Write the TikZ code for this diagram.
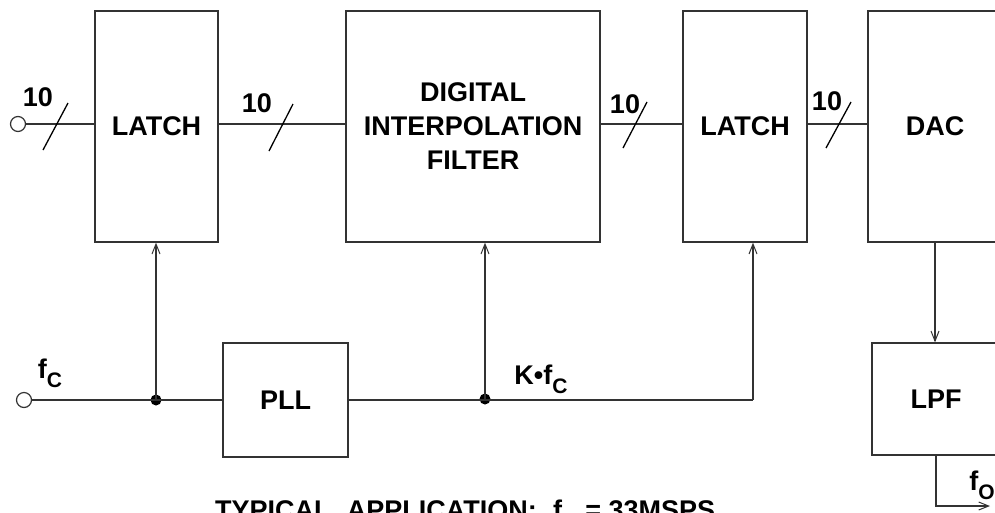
\documentclass[tikz,border=0pt]{standalone}
\usepackage{fontspec}
\setmainfont{Liberation Sans}
\usetikzlibrary{arrows.meta}
\newcommand\lowsub[1]{\raisebox{-0.32em}{\fontsize{21}{21}\selectfont #1}}
\begin{document}
\begin{tikzpicture}[x=1pt,y=-1pt,
 blk/.style={draw=black!80, line width=1.3pt, inner sep=0pt, font=\bfseries\fontsize{27}{34}\selectfont, align=center},
 lbl/.style={inner sep=0pt, font=\bfseries\fontsize{27}{32}\selectfont},
 wire/.style={draw=black!80, line width=1.3pt},
 arr/.style={wire, -{Straight Barb[length=10pt,width=8pt,line width=1pt]}},
 bus/.style={draw=black, line width=1.3pt},
 dotn/.style={circle, fill=black, inner sep=0pt, minimum size=11pt},
 term/.style={circle, draw=black!80, line width=1.2pt, fill=white, inner sep=0pt, minimum size=15pt}]
\useasboundingbox (0,0) rectangle (995,512);
\clip (0,0) rectangle (995,512);
% blocks
\node[blk, minimum width=123pt, minimum height=231pt] (l1) at (156.5,126.5) {LATCH};
\node[blk, minimum width=254pt, minimum height=231pt] (dif) at (473,126.5) {DIGITAL\\INTERPOLATION\\FILTER};
\node[blk, minimum width=124pt, minimum height=231pt] (l2) at (745,126.5) {LATCH};
\node[blk, minimum width=134pt, minimum height=231pt] (dac) at (935,126.5) {DAC};
\node[blk, minimum width=125pt, minimum height=114pt] (pll) at (285.5,400) {PLL};
\node[blk, minimum width=128pt, minimum height=112pt] (lpf) at (936,399) {LPF};
% terminals
\node[term] (t1) at (18,124) {};
\node[term] (t2) at (24,400) {};
% top bus
\draw[wire] (t1.east) -- (t1 -| l1.west);
\draw[wire] (t1 -| l1.east) -- (t1 -| dif.west);
\draw[wire] (t1 -| dif.east) -- (t1 -| l2.west);
\draw[wire] (t1 -| l2.east) -- (t1 -| dac.west);
% bus slashes
\draw[bus] (43,150) -- (68,103);
\draw[bus] (269,151) -- (293,104);
\draw[bus] (623,148) -- (647,102);
\draw[bus] (826,148) -- (851,102);
\node[lbl] (n1) at (38,97) {10};
\node[lbl] (n2) at (257,103) {10};
\node[lbl] (n3) at (625,104) {10};
\node[lbl] (n4) at (827,101) {10};
% clock
\node[dotn] (d1) at (156,400) {};
\node[dotn] (d2) at (485,399) {};
\coordinate (c3) at (753,400);
\draw[wire] (t2.east) -- (t2 -| pll.west);
\draw[wire] (pll.east) -- (c3);
\draw[arr] (c3) -- (c3 |- l2.south);
\draw[arr] (d1.center) -- (d1 |- l1.south);
\draw[arr] (d2.center) -- (d2 |- dif.south);
\node[lbl] (fc) at (50,373) {f\lowsub{C}};
\node[lbl] (kfc) at (541,379) {K•f\lowsub{C}};
% output
\draw[arr] (dac.south) -- (dac.south |- lpf.north);
\coordinate (out) at (990,506);
\draw[arr] (lpf.south) -- (lpf.south |- out) -- (out);
\node[lbl] (fo) at (982,485) {f\lowsub{O}};
\node[lbl, anchor=north west] (cap) at (215,500) {TYPICAL\hspace{0.6em}APPLICATION:\hspace{0.6em}f\lowsub{C}\hspace{0.3em}= 33MSPS};
\end{tikzpicture}
\end{document}
